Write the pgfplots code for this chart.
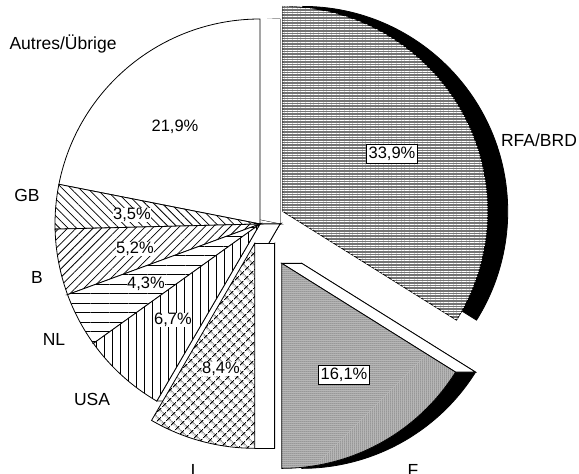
\documentclass[border=0pt]{standalone}
\usepackage{pgfplots}
\pgfplotsset{compat=1.18}
\usepackage{pgfplotstable}
\usepackage{fontspec}
\setmainfont{Liberation Sans}
\usetikzlibrary{patterns.meta}

% shares in percent, clockwise from 12 o'clock; explode = offset of the slice
\pgfplotstableread{
name   value explode
RFA    33.9  26
F      16.1  45
I      8.4   20
USA    6.7   0
NL     4.3   0
B      5.2   0
GB     3.5   0
Autres 21.9  0
}\pietable

% centre, radius and depth shift, in axis units (1 unit = 1pt)
\def\cx{260}\def\cy{250}\def\R{205}\def\dx{20}

\tikzset{
  slice0/.style={fill=black!55, postaction={pattern={Lines[angle=0,distance=2.6pt,line width=0.8pt]}, pattern color=white}},
  slice1/.style={fill=black!22, postaction={pattern={Dots[distance=2pt,radius=0.5pt]}, pattern color=black}},
  slice2/.style={fill=white, postaction={pattern={Hatch[angle=45,distance=6.5pt,line width=1.1pt]}}},
  slice3/.style={fill=white, postaction={pattern={Lines[angle=90,distance=8pt,line width=0.75pt]}}},
  slice4/.style={fill=white, postaction={pattern={Lines[angle=0,distance=9.5pt,line width=0.75pt]}}},
  slice5/.style={fill=white, postaction={pattern={Lines[angle=45,distance=6pt,line width=0.75pt]}}},
  slice6/.style={fill=white, postaction={pattern={Lines[angle=-45,distance=6pt,line width=0.75pt]}}},
  slice7/.style={fill=white},
  pct/.style={fill=white, inner sep=0.6pt, font=\fontsize{16.5}{18}\selectfont},
  box/.style={fill=white, draw=black, line width=0.8pt, inner sep=2.5pt, font=\fontsize{16.5}{18}\selectfont},
  lab/.style={font=\fontsize{17.5}{19}\selectfont},
}

% run #1 once for every slice, last row first
\newcommand\forslices[1]{%
  \xdef\pend{100}%
  \foreach \i in {7,6,...,0} {%
    \pgfplotstablegetelem{\i}{value}\of\pietable \let\pv\pgfplotsretval
    \pgfplotstablegetelem{\i}{explode}\of\pietable \let\pe\pgfplotsretval
    \pgfmathsetmacro\tB{\pend*3.6}%
    \pgfmathsetmacro\tA{(\pend-\pv)*3.6}%
    \pgfmathsetmacro\tM{(\tA+\tB)/2}%
    \pgfmathsetmacro\ox{\cx+\pe*sin(\tM)}%
    \pgfmathsetmacro\oy{\cy+\pe*cos(\tM)}%
    \pgfmathsetmacro\ax{\ox+\R*sin(\tA)}\pgfmathsetmacro\ay{\oy+\R*cos(\tA)}%
    \pgfmathsetmacro\bx{\ox+\R*sin(\tB)}\pgfmathsetmacro\by{\oy+\R*cos(\tB)}%
    \pgfmathsetmacro\sA{90-\tA}\pgfmathsetmacro\sB{90-\tB}%
    \pgfmathsetmacro\oxs{\ox+\dx}\pgfmathsetmacro\axs{\ax+\dx}\pgfmathsetmacro\bxs{\bx+\dx}%
    #1%
    \pgfmathsetmacro\newend{\pend-\pv}\xdef\pend{\newend}%
  }}

\begin{document}
\begin{tikzpicture}
\useasboundingbox (0,0) rectangle (579pt,474pt);
\begin{axis}[x=1pt, y=1pt, xmin=0, xmax=579, ymin=0, ymax=474,
  scale only axis, hide axis, clip=false]
\pgfplotsextra{%
  % depth: back face and the visible side faces
  \forslices{%
    \edef\cmd{\noexpand\path[fill=black, draw=black, line width=0.8pt]
      (axis cs:\oxs,\oy) -- (axis cs:\axs,\ay) arc[start angle=\sA, end angle=\sB, radius=\R pt] -- cycle;}\cmd
    \pgfmathtruncatemacro\visA{cos(\tA)<-0.001}%
    \pgfmathtruncatemacro\visB{cos(\tB)>0.001}%
    \ifnum\visA=1
      \edef\cmd{\noexpand\path[fill=white, draw=black, line width=0.8pt]
        (axis cs:\ox,\oy) -- (axis cs:\ax,\ay) -- (axis cs:\axs,\ay) -- (axis cs:\oxs,\oy) -- cycle;}\cmd
    \fi
    \ifnum\visB=1
      \edef\cmd{\noexpand\path[fill=white]
        (axis cs:\ox,\oy) -- (axis cs:\bx,\by) -- (axis cs:\bxs,\by) -- (axis cs:\oxs,\oy) -- cycle;}\cmd
    \fi
  }%
  % front faces
  \forslices{%
    \edef\cmd{\noexpand\path[slice\i, draw=black, line width=0.8pt]
      (axis cs:\ox,\oy) -- (axis cs:\ax,\ay) arc[start angle=\sA, end angle=\sB, radius=\R pt] -- cycle;}\cmd
  }%
}
% values
\node[pct] at (axis cs:175,347) {21,9\%};
\node[box] at (axis cs:392,320) {33,9\%};
\node[box] at (axis cs:344,99) {16,1\%};
\node[pct] at (axis cs:221,105) {8,4\%};
\node[pct] at (axis cs:173,154) {6,7\%};
\node[pct] at (axis cs:146,190) {4,3\%};
\node[pct] at (axis cs:135,225) {5,2\%};
\node[pct] at (axis cs:132,259) {3,5\%};
% names
\node[lab] at (axis cs:539,334) {RFA/BRD};
\node[lab] at (axis cs:63,430) {Autres/Übrige};
\node[lab] at (axis cs:27,279) {GB};
\node[lab] at (axis cs:37,197) {B};
\node[lab] at (axis cs:54,135) {NL};
\node[lab] at (axis cs:92,75) {USA};
\node[lab, anchor=north] at (axis cs:193,13) {I};
\node[lab, anchor=north] at (axis cs:413,13) {F};
\end{axis}
\end{tikzpicture}
\end{document}
